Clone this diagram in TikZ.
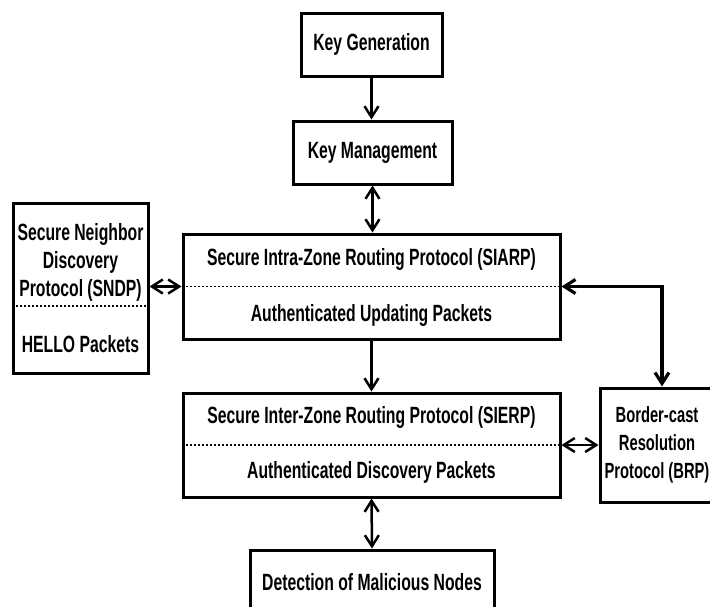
\documentclass[tikz,border=0pt]{standalone}
\usepackage{fontspec}
\setmainfont{Liberation Sans}[FakeStretch=0.67]
\usetikzlibrary{arrows.meta}
\begin{document}
\begin{tikzpicture}[x=1pt,y=-1pt,
  box/.style={draw, line width=3pt, inner sep=0pt},
  lbl/.style={inner sep=0pt, align=center, font=\fontsize{23.5}{28}\selectfont\bfseries},
  tip/.tip={Straight Barb[length=11pt,width=14pt]},
  conn/.style={line width=2.5pt, -tip},
  dconn/.style={line width=2.5pt, tip-tip},
  sep/.style={line width=1.8pt, dash pattern=on 2.5pt off 1.5pt}]
\useasboundingbox (0,0) rectangle (710,606);
\clip (0,0) rectangle (710,606);
% boxes
\node[box, minimum width=141pt, minimum height=63pt] (kg) at (371.5,44.5) {};
\node[lbl] (kgt) at (kg.center) {Key Generation};
\node[box, minimum width=159pt, minimum height=63pt] (km) at (372.5,152.5) {};
\node[lbl] (kmt) at (km.center) {Key Management};
\node[box, minimum width=135pt, minimum height=170pt] (sndp) at (80.5,288) {};
\node[lbl] (sndpt) at (80.5,262) {Secure Neighbor\\Discovery\\Protocol (SNDP)};
\node[lbl] (hello) at (80.5,344) {HELLO Packets};
\coordinate (sndpd) at (80.5,306);
\draw[sep] (sndp.west |- sndpd) -- (sndp.east |- sndpd);
\node[box, minimum width=377pt, minimum height=105pt] (siarp) at (371.5,286.5) {};
\node[lbl] (siarpt) at (371.5,259) {Secure Intra-Zone Routing Protocol (SIARP)};
\node[lbl] (siarpb) at (371.5,315) {Authenticated Updating Packets};
\draw[sep] (siarp.west) -- (siarp.east);
\node[box, minimum width=377pt, minimum height=104pt] (sierp) at (371.5,445) {};
\node[lbl] (sierpt) at (371.5,417) {Secure Inter-Zone Routing Protocol (SIERP)};
\node[lbl] (sierpb) at (371.5,472) {Authenticated Discovery Packets};
\draw[sep] (sierp.west) -- (sierp.east);
\node[box, minimum width=124pt, minimum height=114pt] (brp) at (662,445) {};
\node[lbl, font=\fontsize{22}{28}\selectfont\bfseries] (brpt) at (657,445) {Border-cast\\Resolution\\Protocol (BRP)};
\node[box, minimum width=244pt, minimum height=64pt] (det) at (372,582) {};
\node[lbl] (dett) at (det.center) {Detection of Malicious Nodes};
% connectors
\draw[conn] (kg.south) -- (kg.south |- km.north);
\draw[dconn] (km.south) -- (km.south |- siarp.north);
\draw[dconn] (sndp.east |- siarp.west) -- (siarp.west);
\draw[dconn, line width=3.2pt] (siarp.east) -| (brp.north);
\draw[conn] (siarp.south) -- (sierp.north);
\draw[dconn] (sierp.east) -- (brp.west);
\draw[dconn] (sierp.south) -- (det.north);
\end{tikzpicture}
\end{document}
